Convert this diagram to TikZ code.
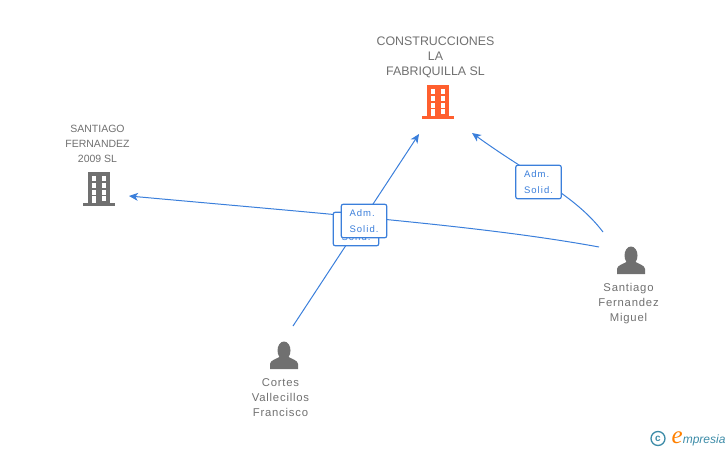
\documentclass[tikz,border=0pt]{standalone}
\usepackage{fontspec}
\setmainfont{Liberation Sans}
\newfontfamily\etiqfont[LetterSpace=7]{Liberation Sans}
\newfontfamily\cajafont[LetterSpace=11]{Liberation Sans}
\newfontfamily\logofont{Liberation Serif}
\usetikzlibrary{arrows.meta}
\definecolor{azul}{HTML}{3B7FDB}
\definecolor{gris}{HTML}{707070}
\definecolor{naranja}{HTML}{FF5F2E}
\definecolor{turquesa}{HTML}{3D8CA8}
\tikzset{
    nombre/.style={text=gris, align=center, font=\fontsize{12.4}{15}\selectfont},
    persona/.style={nombre, font=\etiqfont\fontsize{11.3}{15}\selectfont},
    relacion/.style={draw=azul, line width=1.2pt, rounded corners=2pt, fill=white, text=azul, align=left,
        minimum width=45.5pt, minimum height=33.5pt, inner sep=0pt, font=\cajafont\fontsize{9.5}{16}\selectfont},
    enlace/.style={draw=azul, line width=1pt},
    flecha/.style={enlace, -{Stealth[length=9pt,width=8pt,inset=2.5pt]}},
}
\begin{document}
\begin{tikzpicture}[x=1pt, y=-1pt]
    \useasboundingbox (0,0) rectangle (728,450);

    % Edificios
    \foreach \x/\y/\col in {
        427/85/naranja,
        88/172/gris} {
        \begin{scope}[shift={(\x,\y)}]
            \fill[\col] (0,0) rectangle (22,32);
            \fill[\col] (-5,31) rectangle (27,34);
            \foreach \wy in {4, 11, 18} {
                \fill[white] (3.8,\wy) rectangle (8.3,\wy+4.5);
                \fill[white] (13.8,\wy) rectangle (18.3,\wy+4.5);
            }
            \fill[white] (3.8,24) rectangle (8.3,31);
            \fill[white] (13.8,24) rectangle (18.3,28.5);
        \end{scope}
    }

    % Personas
    \foreach \x/\y in {
        631/246,
        284/341} {
        \begin{scope}[shift={(\x,\y)}]
            \fill[gris] (0,9.5) ellipse (6.5 and 9);
            \fill[gris] (-14,28) -- (-14,23) .. controls (-14,19) and (-7,18) .. (-3,15)
                -- (3,15) .. controls (7,18) and (14,19) .. (14,23) -- (14,28) -- cycle;
        \end{scope}
    }

    % Textos
    \node[nombre] (construcciones) at (435.5,57) {CONSTRUCCIONES\\LA\\FABRIQUILLA SL};
    \node[nombre, font=\fontsize{10.5}{15}\selectfont] (fernandez2009) at (97.5,143.5) {SANTIAGO\\FERNANDEZ\\2009 SL};
    \node[persona] (santiago) at (628.5,303.5) {Santiago\\Fernandez\\Miguel};
    \node[persona] (cortes) at (280.5,397.5) {Cortes\\Vallecillos\\Francisco};

    % Extremos de los enlaces
    \coordinate (finFernandez) at (129,196);
    \coordinate (finConstruA) at (419,134);
    \coordinate (finConstruB) at (472,133);
    \coordinate (iniCortes) at (293,326);
    \coordinate (iniSantiagoA) at (599,247);
    \coordinate (iniSantiagoB) at (603,232);

    \draw[flecha] (iniSantiagoA) .. controls (490,227) and (350,216) .. (finFernandez);
    \draw[flecha] (iniCortes) -- (finConstruA);
    \draw[flecha] (iniSantiagoB) .. controls (575,195) and (530,175) .. (finConstruB);

    % Cajas
    \node[relacion] (cajaCortes) at (356,229) {Adm.\\Solid.};
    \node[relacion] (cajaFernandez) at (364,221) {Adm.\\Solid.};
    \node[relacion] (cajaConstru) at (538.5,182) {Adm.\\Solid.};

    % Logo
    \node[draw=turquesa, circle, line width=1.3pt, text=turquesa, minimum size=14pt, inner sep=0pt,
        font=\bfseries\fontsize{10}{10}\selectfont] (copyright) at (658,438.5) {c};
    \node[text=turquesa, anchor=base west, inner sep=0pt, font=\itshape\fontsize{12}{14}\selectfont] (logo) at (671.5,443)
        {\textcolor{orange}{\logofont\fontsize{25}{25}\selectfont e}mpresia};
\end{tikzpicture}
\end{document}
